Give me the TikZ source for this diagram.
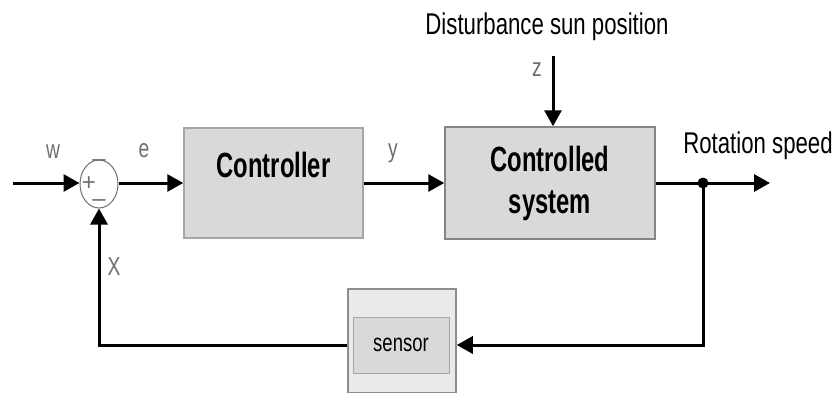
\documentclass[tikz,border=0pt]{standalone}
\usepackage{fontspec}
\setmainfont{Liberation Sans}
\newfontfamily\lblfont[FakeStretch=0.74]{Liberation Sans}
\newfontfamily\boxfont[FakeStretch=0.68]{Liberation Sans}
\usetikzlibrary{
  arrows.meta,
  calc,
  positioning,
  shapes.geometric,
}
\definecolor{boxfill}{HTML}{D9D9D9}
\definecolor{boxedge}{HTML}{A6A6A6}
\definecolor{sigcol}{HTML}{6E6E6E}
\tikzset{
  >={Triangle[length=16pt,width=17pt]},
  sig/.style={line width=3pt},
  block/.style={draw=boxedge, fill=boxfill, line width=1.5pt, inner sep=0pt},
  blocktext/.style={font=\boxfont\bfseries\fontsize{35}{42}\selectfont, align=center},
  lbl/.style={font=\lblfont\fontsize{30}{32}\selectfont},
  varname/.style={font=\lblfont\fontsize{26}{28}\selectfont, text=sigcol},
  signmark/.style={font=\fontsize{24}{24}\selectfont, text=sigcol, inner sep=0pt},
}

\begin{document}
\begin{tikzpicture}[x=1pt, y=-1pt]
  \useasboundingbox (0,0) rectangle (839,392);

  % blocks
  \node [ellipse, draw=sigcol, line width=1pt, minimum width=38pt, minimum height=48pt, inner sep=0pt] (sum) at (99,184) {};
  \node [block, minimum width=179pt, minimum height=110pt,
         label={[blocktext, yshift=18pt]center:Controller}] (ctrl) at (273.5,183) {};
  \node [block, draw=boxedge!80!black, minimum width=210pt, minimum height=112pt,
         blocktext] (plant) at (550,183) {Controlled\\system};
  \node [block, fill=boxfill!55, draw=boxedge!85!black, minimum width=108pt, minimum height=104pt] (sensorbox) at (402,341) {};
  \node [block, line width=1pt, minimum width=96pt, minimum height=56pt,
         font=\lblfont\fontsize{25}{28}\selectfont] (sensor) at (401,345) {sensor};

  % signs on the summing point
  \node [signmark] at (89,184) {+};
  \node [signmark, yshift=-4pt] at (sum.north) {--};
  \node [signmark, yshift=5pt] at (sum.south) {--};

  % free ends
  \coordinate (win) at (13,183);
  \coordinate (zin) at (553,56);
  \coordinate (split) at (703,183);
  \coordinate (out) at (770,183);

  % signals
  \draw [sig, ->] (win) -- (sum.west |- win);
  \draw [sig, ->] (sum.east |- win) -- (ctrl.west);
  \draw [sig, ->] (ctrl.east) -- (plant.west);
  \draw [sig, ->] (zin) -- (plant.north -| zin);
  \draw [sig, ->] (plant.east) -- (out);
  \draw [sig, ->] (split) |- (sensorbox.east |- sensor);
  \draw [sig, ->] (sensorbox.west |- sensor) -| (sum.south);
  \fill (split) circle (5.5pt);

  % labels
  \node [varname] at (53,152) {w};
  \node [varname] at (144,151) {e};
  \node [varname] at (393,153) {y};
  \node [varname] at (537,70) {z};
  \node [varname] at (114,267) {X};
  \node [lbl] at (547,27) {Disturbance sun position};
  \node [lbl] at (758,146) {Rotation speed};
\end{tikzpicture}
\end{document}
